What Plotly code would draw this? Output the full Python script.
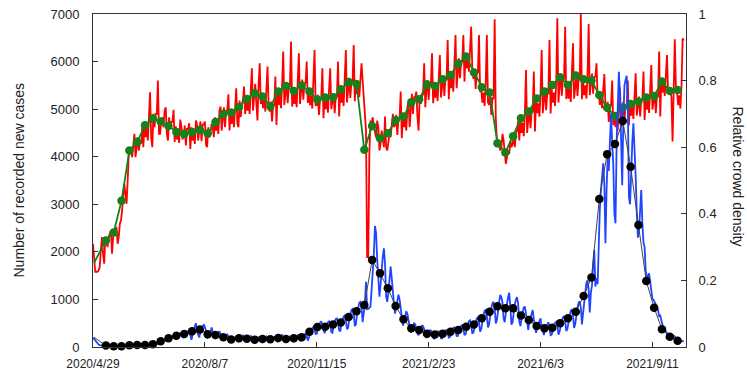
import numpy as np
import pandas as pd
import plotly.graph_objects as go

# ---------------- data ----------------
start_date = "2020/4/29"
tick_labels = ["2020/4/29", "2020/8/7", "2020/11/15", "2021/2/23", "2021/6/3", "2021/9/11"]

# daily relative crowd density (right axis); first 4 days, then 7-day rows
red_head = [0.31, 0.25, 0.226, 0.226]
red_weeks = [
    [0.226, 0.23, 0.24, 0.29, 0.33, 0.28, 0.25],
    [0.33, 0.31, 0.30, 0.33, 0.34, 0.35, 0.28],
    [0.33, 0.34, 0.35, 0.36, 0.31, 0.33, 0.37],
    [0.38, 0.41, 0.46, 0.49, 0.46, 0.43, 0.50],
    [0.58, 0.60, 0.59, 0.57, 0.61, 0.64, 0.57],
    [0.60, 0.63, 0.59, 0.62, 0.61, 0.66, 0.60],
    [0.67, 0.63, 0.66, 0.62, 0.69, 0.765, 0.63],
    [0.60, 0.70, 0.66, 0.70, 0.70, 0.80, 0.64],
    [0.64, 0.68, 0.69, 0.66, 0.71, 0.72, 0.64],
    [0.62, 0.69, 0.66, 0.676, 0.676, 0.712, 0.616],
    [0.663, 0.623, 0.653, 0.613, 0.683, 0.662, 0.623],
    [0.635, 0.665, 0.605, 0.655, 0.655, 0.672, 0.595],
    [0.66, 0.62, 0.65, 0.61, 0.68, 0.667, 0.62],
    [0.648, 0.678, 0.618, 0.668, 0.668, 0.677, 0.608],
    [0.60, 0.66, 0.63, 0.64, 0.67, 0.66, 0.63],
    [0.69, 0.65, 0.68, 0.64, 0.71, 0.722, 0.65],
    [0.69, 0.72, 0.66, 0.71, 0.71, 0.759, 0.65],
    [0.71, 0.67, 0.70, 0.66, 0.73, 0.777, 0.67],
    [0.66, 0.74, 0.69, 0.73, 0.74, 0.782, 0.70],
    [0.75, 0.71, 0.74, 0.70, 0.77, 0.837, 0.71],
    [0.76, 0.79, 0.73, 0.68, 0.79, 0.852, 0.73],
    [0.757, 0.717, 0.747, 0.707, 0.777, 0.842, 0.717],
    [0.707, 0.737, 0.677, 0.727, 0.727, 0.812, 0.667],
    [0.767, 0.727, 0.757, 0.717, 0.787, 0.887, 0.727],
    [0.762, 0.792, 0.732, 0.782, 0.782, 0.917, 0.722],
    [0.77, 0.73, 0.76, 0.72, 0.79, 0.882, 0.73],
    [0.773, 0.803, 0.743, 0.793, 0.793, 0.857, 0.733],
    [0.766, 0.726, 0.756, 0.716, 0.786, 0.892, 0.726],
    [0.727, 0.757, 0.697, 0.747, 0.747, 0.837, 0.687],
    [0.754, 0.714, 0.744, 0.704, 0.774, 0.837, 0.714],
    [0.732, 0.762, 0.702, 0.752, 0.752, 0.857, 0.692],
    [0.774, 0.734, 0.764, 0.724, 0.794, 0.892, 0.734],
    [0.778, 0.808, 0.748, 0.798, 0.798, 0.907, 0.738],
    [0.80, 0.76, 0.79, 0.75, 0.82, 0.852, 0.80],
    [0.75, 0.70, 0.65, 0.27, 0.27, 0.58, 0.68],
    [0.67, 0.69, 0.66, 0.64, 0.63, 0.68, 0.66],
    [0.59, 0.61, 0.65, 0.62, 0.60, 0.692, 0.60],
    [0.59, 0.62, 0.64, 0.63, 0.66, 0.70, 0.66],
    [0.667, 0.697, 0.637, 0.687, 0.687, 0.767, 0.627],
    [0.70, 0.66, 0.69, 0.65, 0.72, 0.737, 0.66],
    [0.73, 0.76, 0.70, 0.75, 0.75, 0.767, 0.69],
    [0.65, 0.75, 0.73, 0.75, 0.76, 0.852, 0.72],
    [0.772, 0.802, 0.742, 0.792, 0.792, 0.882, 0.732],
    [0.789, 0.749, 0.779, 0.739, 0.809, 0.877, 0.749],
    [0.784, 0.814, 0.754, 0.804, 0.804, 0.922, 0.744],
    [0.817, 0.777, 0.807, 0.767, 0.837, 0.937, 0.777],
    [0.837, 0.867, 0.807, 0.857, 0.857, 0.937, 0.797],
    [0.877, 0.837, 0.867, 0.827, 0.897, 0.962, 0.837],
    [0.805, 0.835, 0.775, 0.825, 0.825, 0.937, 0.765],
    [0.774, 0.734, 0.764, 0.724, 0.794, 0.937, 0.734],
    [0.727, 0.757, 0.697, 0.747, 0.747, 0.984, 0.687],
    [0.62, 0.60, 0.61, 0.59, 0.60, 0.64, 0.62],
    [0.57, 0.55, 0.57, 0.59, 0.58, 0.62, 0.60],
    [0.61, 0.63, 0.60, 0.64, 0.65, 0.68, 0.62],
    [0.683, 0.643, 0.673, 0.633, 0.703, 0.832, 0.643],
    [0.687, 0.717, 0.657, 0.707, 0.707, 0.827, 0.647],
    [0.742, 0.702, 0.732, 0.692, 0.762, 0.892, 0.702],
    [0.741, 0.771, 0.711, 0.761, 0.761, 0.922, 0.701],
    [0.774, 0.734, 0.764, 0.724, 0.794, 0.987, 0.734],
    [0.785, 0.815, 0.755, 0.805, 0.805, 0.962, 0.745],
    [0.786, 0.746, 0.776, 0.736, 0.806, 0.912, 0.746],
    [0.784, 0.814, 0.754, 0.804, 0.804, 1.0, 0.744],
    [0.796, 0.756, 0.786, 0.746, 0.816, 0.97, 0.756],
    [0.791, 0.821, 0.761, 0.811, 0.811, 0.852, 0.751],
    [0.767, 0.727, 0.757, 0.717, 0.787, 0.82, 0.727],
    [0.706, 0.736, 0.676, 0.726, 0.726, 0.80, 0.666],
    [0.70, 0.66, 0.69, 0.65, 0.72, 0.78, 0.66],
    [0.706, 0.736, 0.676, 0.726, 0.726, 0.80, 0.666],
    [0.735, 0.695, 0.725, 0.685, 0.755, 0.822, 0.695],
    [0.722, 0.752, 0.692, 0.742, 0.742, 0.827, 0.682],
    [0.753, 0.713, 0.743, 0.703, 0.773, 0.847, 0.713],
    [0.732, 0.762, 0.702, 0.752, 0.752, 0.887, 0.692],
    [0.804, 0.764, 0.794, 0.754, 0.824, 0.877, 0.764],
    [0.78, 0.77, 0.75, 0.617, 0.76, 0.924, 0.78],
    [0.766, 0.726, 0.756, 0.716, 0.786, 0.927, 0.92],
]

# daily recorded new cases (left axis); first 4 days, then 7-day rows
blue_head = [200, 170, 130, 100]
blue_weeks = [
    [70, 50, 40, 30, 30, 25, 25],
    [30, 35, 25, 30, 40, 30, 20],
    [10, 15, 20, 15, 20, 15, 10],
    [10, 12, 15, 18, 20, 15, 15],
    [25, 30, 35, 45, 40, 35, 35],
    [30, 35, 40, 50, 45, 40, 40],
    [30, 35, 40, 50, 45, 40, 40],
    [45, 50, 55, 70, 75, 65, 60],
    [80, 95, 110, 135, 140, 140, 140],
    [130, 150, 180, 210, 220, 200, 190],
    [170, 210, 240, 280, 290, 250, 226],
    [190, 250, 290, 330, 320, 280, 251],
    [150, 290, 360, 430, 498, 320, 262],
    [200, 330, 390, 430, 477, 420, 343],
    [180, 230, 270, 300, 410, 280, 220],
    [170, 220, 260, 300, 330, 260, 224],
    [140, 180, 210, 250, 260, 220, 168],
    [110, 140, 170, 200, 200, 170, 130],
    [120, 160, 190, 230, 240, 190, 151],
    [120, 150, 180, 220, 230, 190, 135],
    [110, 140, 160, 190, 200, 160, 125],
    [110, 150, 180, 210, 220, 170, 136],
    [110, 150, 170, 200, 210, 180, 135],
    [120, 170, 200, 250, 260, 200, 130],
    [110, 150, 170, 210, 220, 180, 136],
    [120, 160, 190, 240, 250, 200, 135],
    [130, 170, 210, 270, 290, 230, 135],
    [200, 270, 330, 390, 420, 370, 274],
    [280, 380, 450, 510, 540, 450, 330],
    [290, 390, 460, 520, 540, 460, 315],
    [300, 440, 520, 590, 600, 510, 351],
    [330, 480, 560, 640, 660, 560, 375],
    [400, 590, 690, 780, 800, 710, 440],
    [480, 700, 820, 930, 950, 850, 520],
    [700, 900, 1373, 792, 800, 820, 850],
    [1200, 1500, 1950, 2544, 2400, 1850, 1359],
    [1057, 1300, 1700, 1900, 2075, 1750, 1057],
    [950, 1150, 1400, 1688, 1450, 1100, 900],
    [700, 850, 950, 1100, 1000, 800, 634],
    [450, 550, 650, 750, 700, 560, 414],
    [300, 370, 440, 500, 480, 380, 281],
    [250, 330, 400, 450, 440, 380, 249],
    [190, 260, 310, 350, 350, 300, 200],
    [170, 250, 290, 330, 330, 280, 184],
    [180, 260, 310, 350, 360, 300, 200],
    [210, 300, 360, 400, 410, 340, 234],
    [230, 340, 390, 450, 460, 380, 249],
    [270, 400, 470, 540, 560, 460, 289],
    [300, 450, 520, 600, 620, 510, 325],
    [380, 570, 660, 760, 780, 660, 411],
    [480, 700, 820, 918, 950, 830, 496],
    [560, 800, 950, 1093, 1050, 930, 602],
    [520, 760, 900, 1050, 1142, 850, 469],
    [520, 780, 900, 1000, 1050, 900, 541],
    [440, 620, 730, 830, 850, 700, 450],
    [360, 530, 630, 720, 778, 580, 378],
    [300, 420, 480, 560, 603, 420, 304],
    [252, 370, 430, 500, 520, 430, 249],
    [260, 380, 450, 510, 530, 450, 262],
    [320, 470, 550, 620, 650, 540, 336],
    [380, 570, 660, 760, 790, 660, 401],
    [480, 700, 820, 930, 960, 830, 474],
    [700, 980, 1150, 1350, 1400, 1200, 724],
    [1150, 1300, 1700, 2039, 1268, 1450, 1320],
    [2500, 2900, 3300, 3600, 3861, 3440, 2180],
    [3300, 4000, 3700, 4300, 4912, 4300, 3845],
    [2800, 2600, 4300, 5200, 5787, 5300, 3882],
    [3400, 4800, 5500, 5612, 5700, 5100, 3147],
    [3000, 3900, 4300, 4702, 4200, 3600, 2828],
    [2300, 2450, 3000, 3300, 2600, 2200, 2098],
    [1600, 1500, 1450, 1550, 1400, 1200, 1009],
    [990, 950, 900, 850, 780, 650, 662],
    [560, 480, 357, 380, 330, 260, 237],
    [250, 230, 220, 183, 240, 210, 186],
    [170, 150, 111, 140, 130, 110, 113],
]

# weekly averages
green_start = 0.253
green_weekly = [0.320, 0.344, 0.439, 0.590, 0.616, 0.666, 0.686, 0.677, 0.664, 0.646,
                0.640, 0.646, 0.652, 0.641, 0.676, 0.700, 0.704, 0.721, 0.745, 0.762,
                0.752, 0.722, 0.767, 0.784, 0.769, 0.785, 0.767, 0.743, 0.749, 0.750,
                0.774, 0.796, 0.790, 0.592, 0.664, 0.627, 0.642, 0.681, 0.692, 0.735,
                0.744, 0.788, 0.784, 0.804, 0.817, 0.851, 0.872, 0.824, 0.780, 0.764,
                0.612, 0.584, 0.633, 0.687, 0.707, 0.746, 0.767, 0.787, 0.810, 0.787,
                0.815, 0.804, 0.800, 0.757, 0.719, 0.694, 0.719, 0.730, 0.737, 0.749,
                0.754, 0.797, 0.769, 0.772]
black_start = 204
black_weekly = [30, 15, 15, 35, 40, 40, 60, 120, 183, 238,
                273, 330, 370, 270, 252, 204, 160, 183, 175, 155,
                168, 165, 190, 168, 185, 205, 322, 420, 425, 473,
                515, 630, 750, 883, 1829, 1549, 1234, 862, 582, 393,
                357, 280, 262, 280, 322, 357, 427, 475, 603, 742,
                855, 813, 813, 660, 568, 441, 393, 406, 498, 603,
                742, 1072, 1460, 3111, 4051, 4267, 4751, 3790, 2564, 1387,
                826, 372, 217, 132]

# ---------------- build ----------------
red_daily = red_head + [v for w in red_weeks for v in w]
blue_daily = blue_head + [v for w in blue_weeks for v in w]
days_red = np.arange(len(red_daily))
days_blue = np.arange(len(blue_daily))

first_week_day = 11.5
week_x = [1] + [first_week_day + 7 * i for i in range(len(green_weekly))]
marker_sizes = [0] + [8.5] * len(green_weekly)

t0 = pd.to_datetime(start_date, format="%Y/%m/%d")
tick_days = [(pd.to_datetime(t, format="%Y/%m/%d") - t0).days for t in tick_labels]

FONT = "Liberation Sans, Arial, sans-serif"
AX = "#333333"

fig = go.Figure()
fig.add_trace(go.Scatter(x=days_red, y=red_daily, mode="lines",
                         line=dict(color="#ff0000", width=1.8), yaxis="y", hoverinfo="skip"))
fig.add_trace(go.Scatter(x=week_x, y=[green_start] + green_weekly, mode="lines+markers",
                         line=dict(color="#17801a", width=1.8),
                         marker=dict(color="#17801a", size=marker_sizes, opacity=1,
                                     line=dict(width=0)),
                         yaxis="y", cliponaxis=False))
fig.add_trace(go.Scatter(x=days_blue, y=blue_daily, mode="lines",
                         line=dict(color="#1f45ff", width=1.8), yaxis="y2", hoverinfo="skip"))
fig.add_trace(go.Scatter(x=week_x, y=[black_start] + black_weekly, mode="lines+markers",
                         line=dict(color="#444444", width=1),
                         marker=dict(color="#000000", size=marker_sizes, opacity=1,
                                     line=dict(width=0)),
                         yaxis="y2", cliponaxis=False))

fig.update_layout(
    width=747, height=374,
    margin=dict(l=93, r=61, t=14, b=27, autoexpand=False),
    plot_bgcolor="white", paper_bgcolor="white",
    showlegend=False,
    font=dict(family=FONT, size=12, color="#222222"),
    xaxis=dict(range=[0, 530], tickmode="array", tickvals=tick_days, ticktext=tick_labels,
               ticks="inside", ticklen=5, tickcolor=AX, showline=True, linecolor=AX,
               linewidth=1, mirror=True, showgrid=False, zeroline=False, automargin=False,
               ticklabelstandoff=6, tickfont=dict(size=12)),
    yaxis=dict(range=[0, 1], side="right", tickmode="array",
               tickvals=[0, 0.2, 0.4, 0.6, 0.8, 1.0],
               ticktext=["0", "0.2", "0.4", "0.6", "0.8", "1"],
               ticks="inside", ticklen=5, tickcolor=AX, showline=True, linecolor=AX,
               linewidth=1, showgrid=False, zeroline=False, ticklabelstandoff=9,
               automargin=False, tickfont=dict(size=13)),
    yaxis2=dict(range=[0, 7000], side="left", overlaying="y", tickmode="array",
                tickvals=[0, 1000, 2000, 3000, 4000, 5000, 6000, 7000],
                ticktext=["0", "1000", "2000", "3000", "4000", "5000", "6000", "7000"],
                ticks="inside", ticklen=5, tickcolor=AX, showline=True, linecolor=AX,
                linewidth=1, showgrid=False, zeroline=False, ticklabelstandoff=10,
                automargin=False, tickfont=dict(size=13)),
    annotations=[
        dict(text="Number of recorded new cases", xref="paper", yref="paper",
             x=0, y=0.5, xanchor="center", yanchor="middle", xshift=-75, yshift=0,
             textangle=-90, showarrow=False, font=dict(size=14, color="#222222")),
        dict(text="Relative crowd density", xref="paper", yref="paper",
             x=1, y=0.5, xanchor="center", yanchor="middle", xshift=52, yshift=4,
             textangle=90, showarrow=False, font=dict(size=14, color="#222222")),
    ],
)

fig.write_html("out.html")
